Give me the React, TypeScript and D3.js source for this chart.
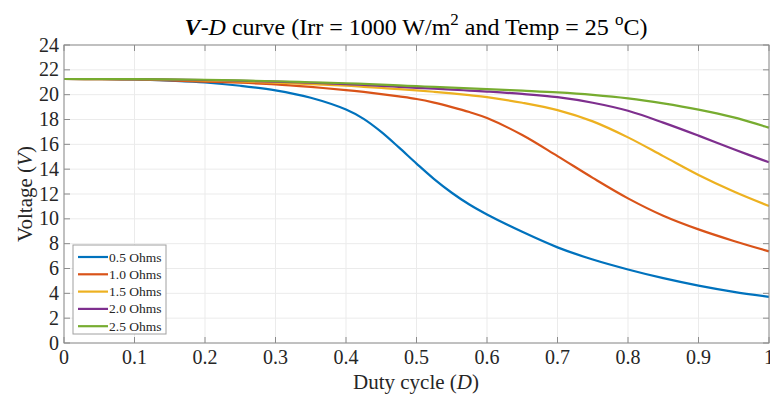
import React from "react";
import * as d3 from "d3";

const duty = [0, 0.05, 0.1, 0.15, 0.2, 0.25, 0.3, 0.35, 0.4, 0.425, 0.45, 0.475, 0.5, 0.525, 0.55, 0.575, 0.6, 0.65, 0.7, 0.75, 0.8, 0.85, 0.9, 0.95, 1.0];

const v05 = [21.26, 21.25, 21.22, 21.12, 20.98, 20.72, 20.35, 19.75, 18.8, 18.05, 17.0, 15.75, 14.45, 13.2, 12.1, 11.15, 10.35, 8.95, 7.7, 6.72, 5.92, 5.22, 4.62, 4.12, 3.72];
const v10 = [21.26, 21.25, 21.22, 21.15, 21.05, 20.96, 20.83, 20.62, 20.37, 20.22, 20.05, 19.86, 19.65, 19.36, 19.0, 18.6, 18.12, 16.75, 15.05, 13.3, 11.65, 10.25, 9.15, 8.22, 7.38];
const v15 = [21.26, 21.25, 21.24, 21.2, 21.15, 21.07, 20.96, 20.85, 20.72, 20.63, 20.54, 20.45, 20.35, 20.23, 20.1, 19.96, 19.8, 19.35, 18.76, 17.85, 16.56, 15.05, 13.53, 12.2, 11.03];
const v20 = [21.26, 21.26, 21.25, 21.22, 21.18, 21.12, 21.05, 20.96, 20.85, 20.78, 20.71, 20.63, 20.55, 20.48, 20.41, 20.33, 20.25, 20.06, 19.8, 19.35, 18.7, 17.75, 16.7, 15.6, 14.55];
const v25 = [21.26, 21.26, 21.25, 21.23, 21.2, 21.15, 21.08, 21.0, 20.92, 20.87, 20.81, 20.75, 20.68, 20.63, 20.57, 20.51, 20.45, 20.32, 20.18, 19.98, 19.7, 19.3, 18.8, 18.17, 17.34];

const seriesNames = ["0.5 Ohms", "1.0 Ohms", "1.5 Ohms", "2.0 Ohms", "2.5 Ohms"];
const seriesValues = [v05, v10, v15, v20, v25];
const seriesColors = ["#0072BD", "#D95319", "#EDB120", "#7E2F8E", "#77AC30"];

const xTicks = [0, 0.1, 0.2, 0.3, 0.4, 0.5, 0.6, 0.7, 0.8, 0.9, 1];
const yTicks = [0, 2, 4, 6, 8, 10, 12, 14, 16, 18, 20, 22, 24];

export default function App() {
  const W = 770, H = 401;
  const left = 64, right = 769, top = 45, bottom = 343;
  const x = d3.scaleLinear().domain([0, 1]).range([left, right]);
  const y = d3.scaleLinear().domain([0, 24]).range([bottom, top]);
  const line = d3.line<[number, number]>()
    .x((d) => x(d[0]))
    .y((d) => y(d[1]))
    .curve(d3.curveCatmullRom.alpha(0.5));
  const font = "'Liberation Serif', 'Times New Roman', serif";
  const tickLen = 6;
  const axisColor = "#8c8c8c";
  const textColor = "#262626";

  const legX = 73, legY = 245, legW = 93, legH = 89;
  const legRow = 17.3;

  return (
    <svg width={W} height={H} style={{ position: "absolute", left: 0, top: 0, display: "block" }} fontFamily={font}>
      <rect x={0} y={0} width={W} height={H} fill="#ffffff" />
      {/* grid */}
      {xTicks.map((t) => (
        <line key={"gx" + t} x1={x(t)} x2={x(t)} y1={top} y2={bottom} stroke="#ebebeb" strokeWidth={1} />
      ))}
      {yTicks.map((t) => (
        <line key={"gy" + t} x1={left} x2={right} y1={y(t)} y2={y(t)} stroke="#ebebeb" strokeWidth={1} />
      ))}
      {/* ticks */}
      {xTicks.map((t) => (
        <g key={"tx" + t}>
          <line x1={x(t)} x2={x(t)} y1={bottom} y2={bottom - tickLen} stroke={axisColor} />
          <line x1={x(t)} x2={x(t)} y1={top} y2={top + tickLen} stroke={axisColor} />
          <text x={x(t)} y={364} fontSize={20} textAnchor="middle" fill={textColor}>{String(t)}</text>
        </g>
      ))}
      {yTicks.map((t) => (
        <g key={"ty" + t}>
          <line x1={left} x2={left + tickLen} y1={y(t)} y2={y(t)} stroke={axisColor} />
          <line x1={right} x2={right - tickLen} y1={y(t)} y2={y(t)} stroke={axisColor} />
          <text x={59} y={y(t) + 6.5} fontSize={20} textAnchor="end" fill={textColor}>{String(t)}</text>
        </g>
      ))}
      {/* lines */}
      {seriesValues.map((vals, i) => (
        <path
          key={seriesNames[i]}
          d={line(duty.map((dv, j) => [dv, vals[j]] as [number, number])) || ""}
          fill="none"
          stroke={seriesColors[i]}
          strokeWidth={2.2}
        />
      ))}
      {/* box */}
      <rect x={left} y={top} width={right - left} height={bottom - top} fill="none" stroke={axisColor} strokeWidth={1} />
      {/* legend */}
      <rect x={legX} y={legY} width={legW} height={legH} fill="#ffffff" stroke="#a0a0a0" strokeWidth={1} />
      {seriesNames.map((n, i) => {
        const yy = legY + 12 + i * legRow;
        return (
          <g key={"lg" + n}>
            <line x1={78} x2={108} y1={yy} y2={yy} stroke={seriesColors[i]} strokeWidth={2.2} />
            <text x={109} y={yy + 4.5} fontSize={13.5} fill={textColor}>{n}</text>
          </g>
        );
      })}
      {/* axis labels */}
      <text x={416} y={389} fontSize={21} textAnchor="middle" fill={textColor}>
        Duty cycle (<tspan fontStyle="italic">D</tspan>)
      </text>
      <text transform={`translate(32, ${(top + bottom) / 2}) rotate(-90)`} fontSize={21} textAnchor="middle" fill={textColor}>
        Voltage (<tspan fontStyle="italic">V</tspan>)
      </text>
      {/* title */}
      <text x={416} y={35} fontSize={24} textAnchor="middle" fill="#000000">
        <tspan fontStyle="italic" fontWeight="bold">V</tspan>
        <tspan fontStyle="italic">-D</tspan>
        <tspan> curve (Irr = 1000 W/m</tspan>
        <tspan dy={-10} fontSize={17}>2</tspan>
        <tspan dy={10}> and Temp = 25 </tspan>
        <tspan dy={-10} fontSize={17}>o</tspan>
        <tspan dy={10}>C)</tspan>
      </text>
    </svg>
  );
}
